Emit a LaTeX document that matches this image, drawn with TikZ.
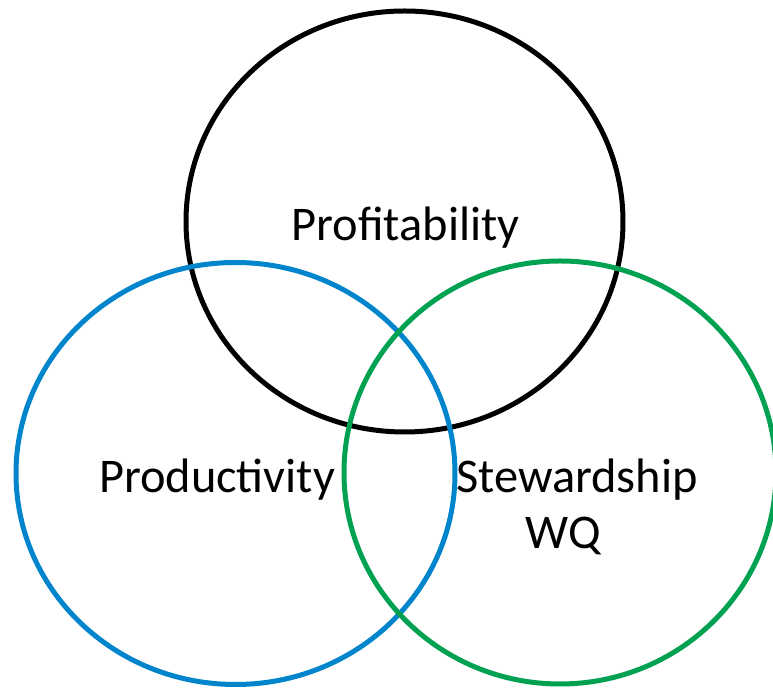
\documentclass[tikz,border=0pt]{standalone}
\usepackage{fontspec}
\setmainfont{Carlito}
\usepackage{tikz}
\definecolor{vennblue}{RGB}{0,133,204}
\definecolor{venngreen}{RGB}{0,161,80}

\begin{document}
\begin{tikzpicture}[x=0.5pt,y=-0.5pt,
  ring/.style={line width=2.5pt},
  lbl/.style={anchor=base,inner sep=0pt,font=\fontsize{24.2}{29}\selectfont}]
\useasboundingbox (0,0) rectangle (773,688);
\begin{scope}
 \clip (0,0) rectangle (773,688);
 \draw[ring,black] (404.5,221.5) ellipse [x radius=218.5,y radius=210.5];
 \draw[ring,vennblue] (235.5,473.5) ellipse [x radius=219.5,y radius=211];
 \draw[ring,venngreen] (560,472.5) ellipse [x radius=216,y radius=211.5];
\end{scope}
\node[lbl] (profit) at (405.5,241) {Profitability};
\node[lbl] (prod) at (217,493) {Productivity};
\node[lbl] (stew) at (577,493) {Stewardship};
\node[lbl] (wq) at (563,549) {WQ};
\end{tikzpicture}
\end{document}
